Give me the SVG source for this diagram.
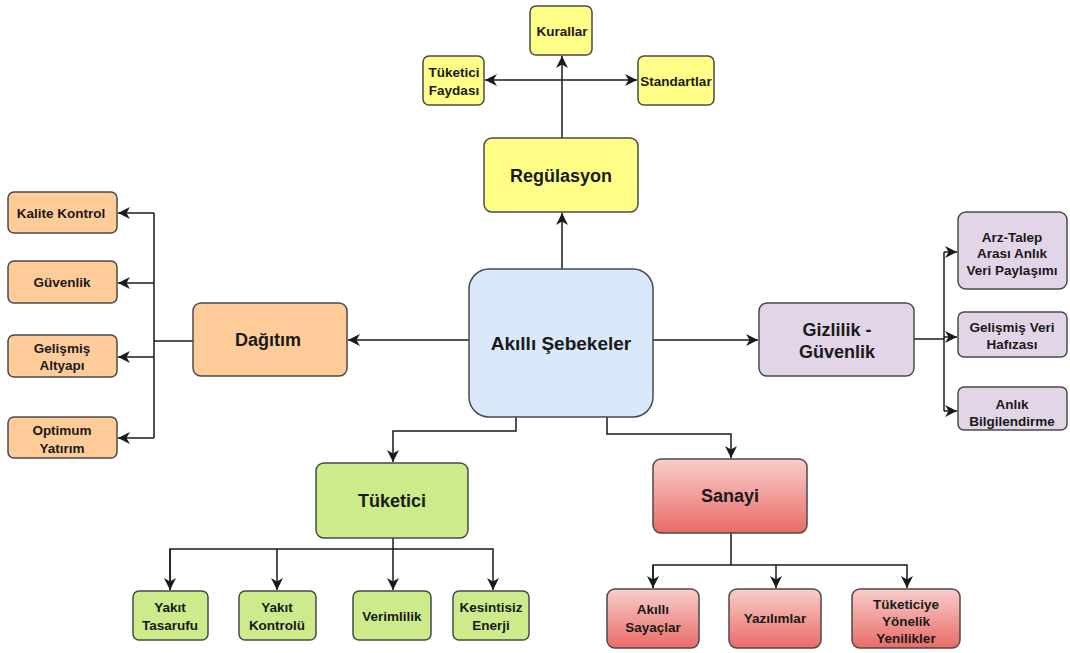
<svg xmlns="http://www.w3.org/2000/svg" width="1070" height="653" viewBox="0 0 1070 653">
<style>
.n{stroke:#4a4a4a;stroke-width:1.5}
.y{fill:#ffff88}
.o{fill:#ffcc99}
.p{fill:#e1d5e7}
.b{fill:#dae8fc}
.g{fill:#cdeb8b}
.r{fill:url(#rg)}
text{font-family:"Liberation Sans",Arial,sans-serif;font-weight:bold;fill:#1a1a1a;text-anchor:middle}
.s{font-size:13.5px}
.m{font-size:18px}
.c{fill:none;stroke:#1a1a1a;stroke-width:1.5}
</style>
<defs>
<linearGradient id="rg" x1="0" y1="0" x2="0" y2="1">
<stop offset="0" stop-color="#f8cecc"/>
<stop offset="1" stop-color="#ea6b66"/>
</linearGradient>
<marker id="a" viewBox="0 0 10 10" refX="10" refY="5" markerWidth="12" markerHeight="12" markerUnits="userSpaceOnUse" orient="auto-start-reverse">
<path d="M0,0 L10,5 L0,10 L3,5 z" fill="#1a1a1a"/>
</marker>
</defs>
<g id="connectors">
<path class="c" d="M562,269 V213" marker-end="url(#a)"/>
<path class="c" d="M562,138 V56" marker-end="url(#a)"/>
<path class="c" d="M485,80 H637" marker-start="url(#a)" marker-end="url(#a)"/>
<path class="c" d="M469,340 H348" marker-end="url(#a)"/>
<path class="c" d="M193,341 H154"/>
<path class="c" d="M154,213 V438"/>
<path class="c" d="M154,213 H118" marker-end="url(#a)"/>
<path class="c" d="M154,283 H118" marker-end="url(#a)"/>
<path class="c" d="M154,357 H118" marker-end="url(#a)"/>
<path class="c" d="M154,438 H118" marker-end="url(#a)"/>
<path class="c" d="M652,340 H758" marker-end="url(#a)"/>
<path class="c" d="M914,339 H944"/>
<path class="c" d="M944,252 V411"/>
<path class="c" d="M944,252 H957" marker-end="url(#a)"/>
<path class="c" d="M944,337 H957" marker-end="url(#a)"/>
<path class="c" d="M944,411 H957" marker-end="url(#a)"/>
<path class="c" d="M516,417 V431 H393 V462" marker-end="url(#a)"/>
<path class="c" d="M607,417 V434 H731 V458" marker-end="url(#a)"/>
<path class="c" d="M393,538 V590" marker-end="url(#a)"/>
<path class="c" d="M170,590 V549 H493 V590" marker-end="url(#a)"/>
<path class="c" d="M277,549 V590" marker-end="url(#a)"/>
<path class="c" d="M170,549 V590" marker-end="url(#a)"/>
<path class="c" d="M731,533 V565"/>
<path class="c" d="M653,588 V565 H907 V588" marker-end="url(#a)"/>
<path class="c" d="M653,565 V588" marker-end="url(#a)"/>
<path class="c" d="M776,565 V588" marker-end="url(#a)"/>
</g>
<g id="center"><rect class="n b" x="469" y="269" width="184" height="148" rx="20"/><text x="561" y="350" style="font-size:19px">Akıllı Şebekeler</text></g>
<g id="regulasyon"><rect class="n y" x="484" y="138" width="154" height="74" rx="8"/><text class="m" x="561" y="182">Regülasyon</text></g>
<g id="kurallar"><rect class="n y" x="530" y="6" width="62" height="49" rx="6"/><text class="s" x="562" y="36">Kurallar</text></g>
<g id="tuketici-faydasi"><rect class="n y" x="423" y="56" width="61" height="49" rx="6"/><text class="s" x="454" y="77">Tüketici</text><text class="s" x="454" y="95">Faydası</text></g>
<g id="standartlar"><rect class="n y" x="638" y="56" width="76" height="49" rx="6"/><text class="s" x="676" y="86">Standartlar</text></g>
<g id="dagitim"><rect class="n o" x="193" y="303" width="154" height="73" rx="8"/><text class="m" x="268" y="346">Dağıtım</text></g>
<g id="kalite"><rect class="n o" x="8" y="192" width="109" height="41" rx="6"/><text class="s" x="61" y="218">Kalite Kontrol</text></g>
<g id="guvenlik"><rect class="n o" x="8" y="261" width="109" height="42" rx="6"/><text class="s" x="62" y="287">Güvenlik</text></g>
<g id="altyapi"><rect class="n o" x="8" y="335" width="109" height="42" rx="6"/><text class="s" x="62" y="353">Gelişmiş</text><text class="s" x="62" y="370">Altyapı</text></g>
<g id="yatirim"><rect class="n o" x="8" y="417" width="109" height="41" rx="6"/><text class="s" x="62" y="435">Optimum</text><text class="s" x="62" y="453">Yatırım</text></g>
<g id="gizlilik"><rect class="n p" x="759" y="303" width="155" height="73" rx="8"/><text class="m" x="837" y="336">Gizlilik -</text><text class="m" x="837" y="358">Güvenlik</text></g>
<g id="arz"><rect class="n p" x="958" y="212" width="109" height="77" rx="8"/><text class="s" x="1012" y="242">Arz-Talep</text><text class="s" x="1012" y="258">Arası Anlık</text><text class="s" x="1012" y="275">Veri Paylaşımı</text></g>
<g id="hafiza"><rect class="n p" x="958" y="312" width="109" height="45" rx="6"/><text class="s" x="1012" y="332">Gelişmiş Veri</text><text class="s" x="1012" y="349">Hafızası</text></g>
<g id="anlik"><rect class="n p" x="958" y="387" width="109" height="43" rx="6"/><text class="s" x="1012" y="409">Anlık</text><text class="s" x="1012" y="426">Bilgilendirme</text></g>
<g id="tuketici"><rect class="n g" x="316" y="463" width="152" height="75" rx="8"/><text class="m" x="392" y="507">Tüketici</text></g>
<g id="yakit-tasarrufu"><rect class="n g" x="133" y="591" width="75" height="49" rx="6"/><text class="s" x="170" y="612">Yakıt</text><text class="s" x="170" y="630">Tasarufu</text></g>
<g id="yakit-kontrolu"><rect class="n g" x="239" y="591" width="77" height="49" rx="6"/><text class="s" x="277" y="612">Yakıt</text><text class="s" x="277" y="630">Kontrolü</text></g>
<g id="verimlilik"><rect class="n g" x="353" y="591" width="78" height="49" rx="6"/><text class="s" x="392" y="621">Verimlilik</text></g>
<g id="kesintisiz"><rect class="n g" x="453" y="591" width="76" height="49" rx="6"/><text class="s" x="491" y="612">Kesintisiz</text><text class="s" x="491" y="630">Enerji</text></g>
<g id="sanayi"><rect class="n r" x="653" y="459" width="154" height="74" rx="8"/><text class="m" x="730" y="502">Sanayi</text></g>
<g id="sayaclar"><rect class="n r" x="607" y="589" width="92" height="59" rx="8"/><text class="s" x="653" y="614">Akıllı</text><text class="s" x="653" y="632">Sayaçlar</text></g>
<g id="yazilimlar"><rect class="n r" x="729" y="589" width="92" height="59" rx="8"/><text class="s" x="775" y="623">Yazılımlar</text></g>
<g id="yenilikler"><rect class="n r" x="852" y="589" width="108" height="59" rx="8"/><text class="s" x="906" y="609">Tüketiciye</text><text class="s" x="906" y="626">Yönelik</text><text class="s" x="906" y="643">Yenilikler</text></g>
</svg>
